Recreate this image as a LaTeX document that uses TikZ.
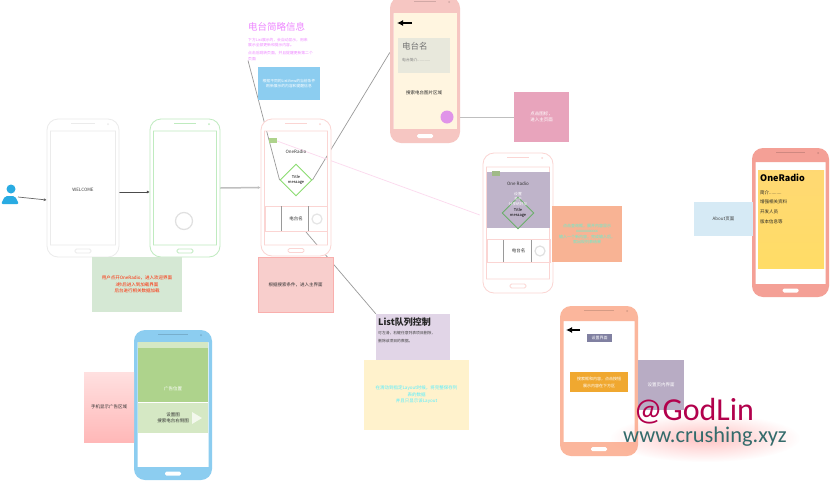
\documentclass[tikz,border=0pt]{standalone}
\usepackage{fontspec}
\setmainfont{Noto Sans CJK SC}
\newfontfamily\markfont{Carlito}
\usetikzlibrary{positioning,fit,backgrounds,fadings,shapes.geometric,arrows.meta}

\definecolor{welcomegray}{HTML}{EBEBEB}
\definecolor{loadgreen}{HTML}{BFEBBF}
\definecolor{mainpink}{HTML}{FBD5D3}
\definecolor{detailpink}{HTML}{F6C6C2}
\definecolor{aboutred}{HTML}{F4A096}
\definecolor{listpeach}{HTML}{FBB69C}
\definecolor{adblue}{HTML}{8CCDF0}
\definecolor{linegray}{HTML}{9A9A9A}
\definecolor{usercyan}{HTML}{29ABE2}
\definecolor{notegreen}{HTML}{D5E8D4}
\definecolor{notered}{HTML}{F8CECC}
\definecolor{notelilac}{HTML}{E1D5E7}
\definecolor{noteyellow}{HTML}{FFF2CC}
\definecolor{noterose}{HTML}{E8A4BC}
\definecolor{noteorange}{HTML}{F8B394}
\definecolor{noteabout}{HTML}{D6EAF5}
\definecolor{notegrape}{HTML}{B8ACC4}
\definecolor{briefpink}{HTML}{EE88FF}
\definecolor{creamscreen}{HTML}{FFF5E0}
\definecolor{namegray}{HTML}{E8E8DC}
\definecolor{adgreen}{HTML}{AED38C}
\definecolor{adlight}{HTML}{D5E8C4}
\definecolor{aquatext}{HTML}{55EEFF}
\definecolor{minttext}{HTML}{5FF2D0}
\definecolor{searchgold}{HTML}{F0A830}

\tikzfading[name=glowfade, inner color=transparent!40, outer color=transparent!100]

\tikzset{
  outlinephone/.style={bezelface/.style={draw=#1,fill=white,line width=.8pt},
    homeface/.style={draw=#1,fill=white,line width=.8pt},speakerface/.style={fill=#1}},
  solidphone/.style={bezelface/.style={fill=#1},
    homeface/.style={fill=white},speakerface/.style={fill=#1!85!black}},
  notebox/.style={rectangle,inner sep=1pt,align=center,font=\fontsize{4.5}{6.5}\selectfont},
  smalltext/.style={inner sep=0pt,align=left,font=\fontsize{4.5}{6.5}\selectfont},
  link/.style={draw=linegray,line width=.7pt},
  tiplink/.style={link,-{Latex[length=3pt,width=3pt]}},
  titlediamond/.style={diamond,aspect=1,inner sep=0pt,minimum size=32pt,line width=.9pt,
    align=center,font=\fontsize{4}{4.8}\selectfont},
  spinner/.style={draw=#1,line width=1.2pt},
  barrow/.style={draw=black,line width=1.4pt,-{Latex[length=6pt,width=6pt]}}
}

% name, x1, y1, x2, y2, screen top, screen bottom, look
\newcommand{\phone}[8]{
  \begin{scope}[#8]
    \path[bezelface,even odd rule] [rounded corners=11pt] (#2,#3) rectangle (#4,#5)
      [sharp corners] (#2+3.5,#6) rectangle (#4-3.5,#7);
    \fill[speakerface] (#2+24,#3+4) rectangle (#4-24,#3+5);
    \fill[speakerface] (#4-11,#3+5) circle (1pt);
    \path[homeface,rounded corners=1.5pt] ({(#2+#4)/2-8},{(#5+#7)/2-2}) rectangle ({(#2+#4)/2+8},{(#5+#7)/2+2});
    \node[fit={(#2,#3)(#4,#5)},inner sep=0pt] (#1) {};
  \end{scope}
}

\begin{document}
\begin{tikzpicture}[x=1pt,y=-1pt]
  \useasboundingbox (0,0) rectangle (830,480);

  % phones
  \phone{welcome}{47}{119}{119}{257}{131}{245}{outlinephone=welcomegray}
  \phone{loading}{150}{119}{220}{257}{131}{245}{outlinephone=loadgreen}
  \phone{mainp}{261}{119}{331}{256}{131}{245}{outlinephone=mainpink}
  \phone{detail}{390}{-3}{460}{143}{13}{129}{solidphone=detailpink}
  \phone{playing}{483}{153}{553}{293}{167}{279}{outlinephone=mainpink}
  \phone{about}{752}{148}{829}{297}{162}{284}{solidphone=aboutred}
  \phone{listp}{560}{306}{638}{456}{321}{442}{solidphone=listpeach}
  \phone{adp}{134}{330}{212}{480}{342}{467}{solidphone=adblue}

  % user
  \node[circle,fill=usercyan,inner sep=0pt,minimum size=9pt] (userhead) at (11,189) {};
  \fill[usercyan,rounded corners=2pt] (1,204) -- (5,196) -- (15,196) -- (19,204) -- cycle;
  \coordinate (user) at (18,197);

  % welcome and loading
  \node[smalltext,text=black!75] (welcometxt) at (83,190) {WELCOME};
  \draw[spinner=black!12] (184,221) circle (8.5pt);
  \node[notebox,fill=notegreen,minimum width=90pt,minimum height=55pt,text=red!70!orange] (startnote) at (137,284.5)
    {用户点开OneRadio，进入欢迎界面\\3秒后进入到加载界面\\后台进行相关数据加载};

  % main screen
  \fill[adgreen] (269,138) rectangle (277,143);
  \coordinate (mainicon) at (277,141);
  \node[smalltext,text=black!80] (maintitle) at (296,152) {OneRadio};
  \node[titlediamond,draw=adgreen!80!green] (maindiamond) at (296,180) {Title\\message};
  \node[draw=mainpink,line width=.8pt,minimum width=62pt,minimum height=25pt,inner sep=0pt,font=\fontsize{4.5}{5}\selectfont,text=black!80] (mainbar) at (296,218.5) {电台名};
  \draw[linegray,line width=1pt] (281,206) -- (281,231) (308,206) -- (308,231);
  \coordinate (barend) at (306,232);
  \draw[spinner=black!10] (317,219) circle (5pt);

  % brief note
  \node[anchor=west,inner sep=0pt,text=briefpink,font=\fontsize{9.5}{11}\selectfont] (briefhead) at (248,27) {电台简略信息};
  \node[smalltext,anchor=north west,text=briefpink,font=\fontsize{3.8}{5.2}\selectfont] (brieftxt) at (248,38)
    {下方List展示的，会自动显示，用来\\展示全部更新和提示内容。\\[3pt]点击后跳转页面，并且提醒更新第二个\\页面};
  \node[notebox,fill=adblue,minimum width=62pt,minimum height=33pt,text=white,font=\fontsize{3.8}{5}\selectfont] (bluenote) at (289,83.5)
    {根据不同的ListView的当前条件\\刷新展示的内容和提醒信息};
  \node[notebox,fill=notered,draw=notered!85!red,minimum width=75pt,minimum height=55pt,text=black!80] (searchnote) at (295.5,284.5)
    {根据搜索条件，进入主界面};

  % list note
  \node[notebox,fill=notelilac,minimum width=74pt,minimum height=48pt] (listnote) at (413,338) {};
  \node[anchor=west,inner sep=0pt,font=\fontsize{9}{10}\selectfont\bfseries,text=black!85] (listhead) at (378,322) {List队列控制};
  \node[smalltext,anchor=north west,font=\fontsize{3.8}{8}\selectfont,text=black!75] (listtxt) at (378,331)
    {可左滑，右键任意列表项目删除，\\删除该项目的数据。};
  \node[notebox,fill=noteyellow,minimum width=105pt,minimum height=70pt,text=aquatext] (yellownote) at (416.5,395)
    {在滑动到指定Layout时候，将完整保存列\\表的数据\\并且只显示该Layout};

  % detail screen
  \fill[creamscreen] (393.5,13) rectangle (456.5,129);
  \draw[barrow] (412,23) -- (397,23);
  \node[fill=namegray,minimum width=52pt,minimum height=35pt,inner sep=0pt] (namepanel) at (424,55.5) {};
  \node[anchor=west,inner sep=0pt,text=black!55,font=\fontsize{8.5}{10}\selectfont] (nametxt) at (402,46) {电台名};
  \node[anchor=west,inner sep=0pt,text=black!50,font=\fontsize{3.8}{5}\selectfont] (introtxt) at (402,60) {电台简介............};
  \node[smalltext,text=black!85] (searchtxt) at (424,93) {搜索电台图片区域};
  \node[circle,fill=briefpink!75!violet!70!white,inner sep=0pt,minimum size=13pt] (playdot) at (447,117) {};
  \node[notebox,fill=noterose,minimum width=55pt,minimum height=50pt,text=white] (rosenote) at (541.5,117) {点击图标，\\进入主页面};

  % playing screen
  \fill[notegrape!90!white] (487,172) rectangle (550,228);
  \fill[adgreen!70!gray] (492,171) rectangle (500,176);
  \node[smalltext,text=black!80] (playtitle) at (518,184) {One Radio};
  \node[titlediamond,draw=green!30!gray!90] (playdiamond) at (518,213) {Title\\message};
  \node[smalltext,align=center,text=white,font=\fontsize{3.8}{5}\selectfont] (playmenu) at (518,199) {设置\\关于\\分享给好友};
  \node[draw=mainpink,line width=.7pt,minimum width=63pt,minimum height=23pt,inner sep=0pt,font=\fontsize{4.5}{5}\selectfont,text=black!80] (playbar) at (518.5,251) {电台名};
  \draw[linegray,line width=1pt] (503,240) -- (503,262) (531,240) -- (531,262);
  \draw[spinner=black!12] (540,251) circle (5pt);
  \node[notebox,fill=noteorange,minimum width=70pt,minimum height=56pt,text=minttext,font=\fontsize{4}{5.5}\selectfont] (orangenote) at (587,234)
    {点击查询框，展开内容显示\\xxxxxxxxxxx\\输入一个新内容，完成输入后，\\就出现列表结果};

  % about screen
  \shade[top color=yellow!45!orange!55!white,bottom color=orange!45!yellow!60!white] (758,170) rectangle (824,268);
  \node[anchor=west,inner sep=0pt,font=\fontsize{9}{10}\selectfont\bfseries] (abouthead) at (760,178) {OneRadio};
  \node[smalltext,anchor=west,text=black!85] (abouta) at (760,193) {简介..........};
  \node[smalltext,anchor=west,text=black!85] (aboutb) at (760,202) {增强相关资料};
  \node[smalltext,anchor=west,text=black!85] (aboutc) at (760,212) {开发人员};
  \node[smalltext,anchor=west,text=black!85] (aboutd) at (760,222) {版本信息等};
  \node[notebox,fill=noteabout,minimum width=59pt,minimum height=34pt,text=black!75] (aboutnote) at (723.5,219) {About页面};

  % list screen
  \draw[barrow] (580,330) -- (566,330);
  \node[notebox,fill=black!35!blue!25!gray!80,minimum width=25pt,minimum height=8pt,inner sep=0pt,text=white,font=\fontsize{4}{5}\selectfont] (setbtn) at (599.5,338) {设置界面};
  \node[notebox,fill=searchgold,minimum width=58pt,minimum height=20pt,inner sep=0pt,text=white,font=\fontsize{4}{7}\selectfont] (searchbtn) at (599,382) {搜索框和内容，点击按钮\\展示内容在下方区};
  \node[notebox,fill=notegrape,minimum width=46pt,minimum height=50pt,text=white] (lilacnote) at (661,385) {设置页内界面};

  % ad screen
  \fill[adlight] (138,342) rectangle (208,348);
  \node[fill=adgreen,minimum width=70pt,minimum height=54pt,inner sep=0pt] (adpanel) at (173,375) {};
  \node[smalltext,text=white] (adtxt) at (173,389) {广告位置};
  \node[fill=adlight,minimum width=70pt,minimum height=30pt,inner sep=0pt] (adbar) at (173,418) {};
  \node[smalltext,align=center,text=black!80] (adbartxt) at (173,418) {设置图\\搜索电台右侧图};
  \fill[white!70!adlight] (192,412) -- (202,418) -- (192,424) -- cycle;
  \shade[top color=red!12!white,bottom color=red!28!white] (84,372) rectangle (134,442);
  \node[smalltext,text=black!80] (adnote) at (109,407) {手机显示广告区域};

  % watermark
  \fill[red!40!white,path fading=glowfade] (705,438) ellipse (95pt and 24pt);
  \node[inner sep=0pt,text depth=0pt,text height=20pt,text=purple!80!violet,font=\markfont\fontsize{32}{34}\selectfont] (markname) at (694,410) {@GodLin};
  \node[inner sep=0pt,text depth=0pt,text height=12pt,text=teal!55!black!80,font=\markfont\fontsize{22.4}{25}\selectfont] (marksite) at (705,436) {www.crushing.xyz};

  % connectors
  \begin{scope}[on background layer]
    \fill[white] (0,0) rectangle (830,480);
    \draw[tiplink,draw=black!60] (user) -- ([yshift=-12pt]welcome.west);
    \draw[tiplink,draw=black!70] ([yshift=-4pt]welcome.east) -- ([yshift=-4pt]loading.west);
    \draw[tiplink,draw=black!25,line width=1.5pt] (loading.east) -- (mainp.west);
    \draw[link] (brieftxt.south west) -- (maindiamond.west);
    \draw[link] (maindiamond.east) -- ([yshift=17.5pt]detail.west);
    \draw[link,draw=magenta!15!white] (mainicon) -- ([xshift=-3pt,yshift=8pt]playing.west);
    \draw[link] (barend) -- (listnote.north west);
    \draw[link,draw=black!25] (playdot) -- (rosenote.west);
  \end{scope}
\end{tikzpicture}
\end{document}
